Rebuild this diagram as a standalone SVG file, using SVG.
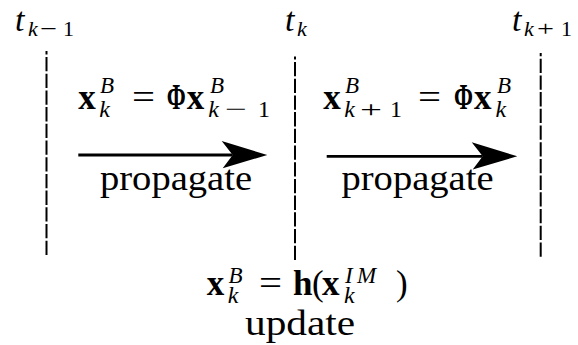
<svg xmlns="http://www.w3.org/2000/svg" width="578" height="345" viewBox="0 0 578 345">
<style>
  text { font-family: "Liberation Serif", "Times New Roman", serif; fill: #000; }
  .m { font-size: 35px; }
  .s { font-size: 24px; }
  .sup { font-size: 23px; }
  .lt { font-size: 34px; }
  .ls { font-size: 22px; }
  .i { font-style: italic; }
  .b { font-weight: bold; }
  .w { font-size: 35px; text-anchor: middle; }
  .tick { stroke: #000; stroke-width: 2; stroke-dasharray: 14.3 2.4; fill: none; }
  .arr { stroke: #000; stroke-width: 2.8; fill: none; marker-end: url(#head); }
</style>
<defs>
  <marker id="head" markerUnits="userSpaceOnUse" viewBox="-47 -15 48 30" markerWidth="48" markerHeight="30" refX="-34.6" refY="0" orient="auto">
    <path d="M0,0 L-45.6,-14 L-34.6,0 L-44.6,13.3 Z" fill="#000"/>
  </marker>
</defs>

<g id="connectors">
  <line class="tick" x1="46.5" y1="255" x2="46.5" y2="51"/>
  <line class="tick" x1="295" y1="260" x2="295" y2="56.5"/>
  <line class="tick" x1="540.7" y1="256.7" x2="540.7" y2="53"/>
  <line class="arr" x1="78.3" y1="155" x2="232.7" y2="155"/>
  <line class="arr" x1="326.7" y1="156.3" x2="482.7" y2="156.3"/>
</g>

<g id="t_km1">
  <text class="lt i" x="15" y="31">t</text>
  <text class="ls i" x="28" y="36">k</text>
  <text class="ls" x="40" y="36" textLength="17" lengthAdjust="spacingAndGlyphs">−</text>
  <text class="ls" x="63" y="36">1</text>
</g>
<g id="t_k">
  <text class="lt i" x="285" y="31">t</text>
  <text class="ls i" x="297" y="36">k</text>
</g>
<g id="t_kp1">
  <text class="lt i" x="512" y="31">t</text>
  <text class="ls i" x="524" y="36">k</text>
  <text class="ls" x="537" y="36" textLength="17" lengthAdjust="spacingAndGlyphs">+</text>
  <text class="ls" x="561" y="36">1</text>
</g>

<g id="prop1">
  <text class="m b" x="78.3" y="108.5">x</text>
  <text class="sup i" x="100" y="93.3">B</text>
  <text class="s i" x="99.3" y="116.7">k</text>
  <text class="m" x="132" y="108.5" textLength="23" lengthAdjust="spacingAndGlyphs">=</text>
  <text class="m b" x="166.7" y="108.5" textLength="19" lengthAdjust="spacingAndGlyphs">Φ</text>
  <text class="m b" x="186.7" y="108.5">x</text>
  <text class="sup i" x="210" y="93.3">B</text>
  <text class="s i" x="208.3" y="116.7">k</text>
  <text class="s" x="225" y="116.7" textLength="22" lengthAdjust="spacingAndGlyphs">−</text>
  <text class="s" x="258" y="116.7">1</text>
  <text class="w" x="176" y="190" textLength="152" lengthAdjust="spacingAndGlyphs">propagate</text>
</g>

<g id="prop2">
  <text class="m b" x="323.3" y="108.5">x</text>
  <text class="sup i" x="345" y="93.3">B</text>
  <text class="s i" x="344.3" y="116.7">k</text>
  <text class="s" x="360" y="116.7" textLength="22" lengthAdjust="spacingAndGlyphs">+</text>
  <text class="s" x="390" y="116.7">1</text>
  <text class="m" x="418" y="108.5" textLength="23" lengthAdjust="spacingAndGlyphs">=</text>
  <text class="m b" x="454" y="108.5" textLength="19" lengthAdjust="spacingAndGlyphs">Φ</text>
  <text class="m b" x="474" y="108.5">x</text>
  <text class="sup i" x="497" y="93.3">B</text>
  <text class="s i" x="495.5" y="116.7">k</text>
  <text class="w" x="417.5" y="190" textLength="152" lengthAdjust="spacingAndGlyphs">propagate</text>
</g>

<g id="update">
  <text class="m b" x="206.7" y="295">x</text>
  <text class="sup i" x="228.4" y="283">B</text>
  <text class="s i" x="227.7" y="303">k</text>
  <text class="m" x="259" y="295" textLength="23" lengthAdjust="spacingAndGlyphs">=</text>
  <text class="m b" x="293" y="295">h</text>
  <text class="m" x="312" y="295">(</text>
  <text class="m b" x="322" y="295">x</text>
  <text class="sup i" x="345" y="283">I</text>
  <text class="sup i" x="357" y="283">M</text>
  <text class="s i" x="344" y="303">k</text>
  <text class="m" x="396" y="295">)</text>
  <text class="w" x="300" y="335" textLength="110" lengthAdjust="spacingAndGlyphs">update</text>
</g>
</svg>
